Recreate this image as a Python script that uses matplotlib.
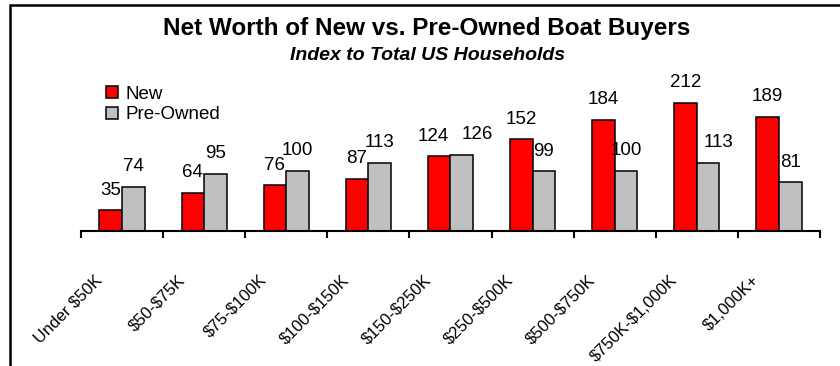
import matplotlib.pyplot as plt
import matplotlib.transforms as mtransforms
from matplotlib.patches import Rectangle
import numpy as np

plt.rcParams['font.family'] = ['Liberation Sans', 'DejaVu Sans']
plt.rcParams['text.parse_math'] = False

categories = ['Under $50K', '$50-$75K', '$75-$100K', '$100-$150K', '$150-$250K',
              '$250-$500K', '$500-$750K', '$750K-$1,000K', '$1,000K+']
new = [35, 64, 76, 87, 124, 152, 184, 212, 189]
pre_owned = [74, 95, 100, 113, 126, 99, 100, 113, 81]

# Excel moved a few labels sideways so they don't collide (pixels)
nudge = {(4, 0): -6, (4, 1): 16, (7, 1): 10}

fig = plt.figure(figsize=(8.4, 3.66), dpi=100)
ax = fig.add_axes([0.0964, 0.3675, 0.8798, 0.415])

x = np.arange(len(categories))
w = 0.275
b1 = ax.bar(x - w / 2, new, w, color='#FF0000', edgecolor='black', linewidth=1.1, label='New')
b2 = ax.bar(x + w / 2, pre_owned, w, color='#C0C0C0', edgecolor='black', linewidth=1.1, label='Pre-Owned')

for s, bars in enumerate([b1, b2]):
    for i, r in enumerate(bars):
        dx = nudge.get((i, s), 0) * 0.72
        ax.annotate(str(int(r.get_height())), (r.get_x() + r.get_width() / 2, r.get_height()),
                    xytext=(dx, 14.5), textcoords='offset points', ha='center', va='center',
                    fontsize=13.5)

ax.set_xlim(-0.5, len(categories) - 0.5)
ax.set_ylim(0, 250)
ax.set_yticks([])
for sp in ['left', 'right', 'top']:
    ax.spines[sp].set_visible(False)
ax.spines['bottom'].set_linewidth(1.5)

ax.set_xticks(np.arange(len(categories) + 1) - 0.5)
ax.set_xticklabels([])
ax.tick_params(axis='x', direction='out', length=5, width=1.5)
ax.set_xticks(x, minor=True)
ax.set_xticklabels(categories, minor=True, rotation=45, ha='right', va='center',
                   rotation_mode='anchor', fontsize=12)
ax.tick_params(axis='x', which='minor', length=0, pad=33)
shift = mtransforms.ScaledTranslation(-22 / 100, 0, fig.dpi_scale_trans)
for lab in ax.get_xticklabels(minor=True):
    lab.set_transform(lab.get_transform() + shift)

leg = ax.legend(loc='upper left', bbox_to_anchor=(0.024, 1.009), frameon=False,
                fontsize=13.5, handlelength=0.65, handleheight=0.65, handletextpad=0.4,
                labelspacing=0.2, borderaxespad=0)

fig.text(0.508, 0.923, 'Net Worth of New vs. Pre-Owned Boat Buyers', ha='center', va='center',
         fontsize=17.5, fontweight='bold')
fig.text(0.509, 0.847, 'Index to Total US Households', ha='center', va='center',
         fontsize=14, fontweight='bold', fontstyle='italic')

fig.add_artist(Rectangle((9.5 / 840, -0.5), 2, 0.5 + 1 - 4.5 / 366, transform=fig.transFigure,
                         fill=False, edgecolor='black', linewidth=1.8))

fig.savefig('out.png', dpi=100)
